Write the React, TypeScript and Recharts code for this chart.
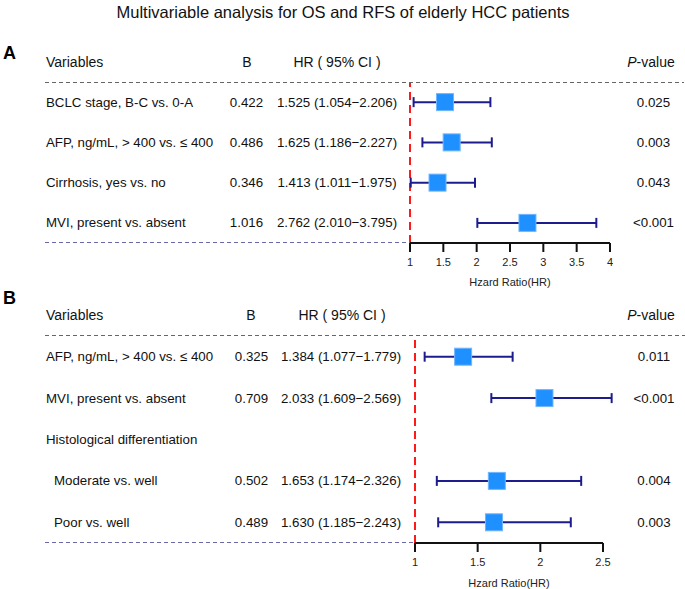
import React from 'react';
import { ScatterChart, Scatter, XAxis, YAxis, ErrorBar, ReferenceLine } from 'recharts';

const FONT = '"Liberation Sans", Arial, sans-serif';

// Panel A: OS
const osLabels = ['BCLC stage, B-C vs. 0-A', 'AFP, ng/mL, > 400 vs. \u2264 400', 'Cirrhosis, yes vs. no', 'MVI, present vs. absent'];
const osB = ['0.422', '0.486', '0.346', '1.016'];
const osHR = [1.525, 1.625, 1.413, 2.762];
const osLow = [1.054, 1.186, 1.011, 2.01];
const osHigh = [2.206, 2.227, 1.975, 3.795];
const osP = ['0.025', '0.003', '0.043', '<0.001'];
const osTicks = [1, 1.5, 2, 2.5, 3, 3.5, 4];

// Panel B: RFS (row 2 is a group header without estimate)
const rfsLabels = ['AFP, ng/mL, > 400 vs. \u2264 400', 'MVI, present vs. absent', 'Histological differentiation', 'Moderate vs. well', 'Poor vs. well'];
const rfsIndent = [false, false, false, true, true];
const rfsB = ['0.325', '0.709', '', '0.502', '0.489'];
const rfsHR: (number | null)[] = [1.384, 2.033, null, 1.653, 1.63];
const rfsLow: (number | null)[] = [1.077, 1.609, null, 1.174, 1.185];
const rfsHigh: (number | null)[] = [1.779, 2.569, null, 2.326, 2.243];
const rfsP = ['0.011', '<0.001', '', '0.004', '0.003'];
const rfsTicks = [1, 1.5, 2, 2.5];

const fmt = (v: number) => v.toFixed(3);

const buildRows = (hr: (number | null)[], lo: (number | null)[], hi: (number | null)[]) =>
  hr
    .map((h, i) => (h == null ? null : { y: i + 0.5, hr: h, err: [h - (lo[i] as number), (hi[i] as number) - h] }))
    .filter(Boolean) as { y: number; hr: number; err: number[] }[];

const Square = (props: any) => {
  const { cx, cy } = props;
  const s = 17;
  return <rect x={cx - s / 2} y={cy - s / 2} width={s} height={s} fill="#1e90ff" stroke="#6fb6ff" strokeWidth={1} />;
};

type PanelProps = {
  top: number;
  height: number;
  plotTop: number;
  plotBottom: number;
  left: number;
  right: number;
  domain: [number, number];
  ticks: number[];
  rowCount: number;
  data: { y: number; hr: number; err: number[] }[];
  labelOffset: number;
};

const ForestPlot = ({ top, height, plotTop, plotBottom, left, right, domain, ticks, rowCount, data, labelOffset }: PanelProps) => (
  <div style={{ position: 'absolute', left: 0, top }}>
    <ScatterChart
      width={685}
      height={height}
      margin={{ top: plotTop, right: 685 - right, left, bottom: 0 }}
    >
      <XAxis
        type="number"
        dataKey="hr"
        domain={domain}
        ticks={ticks}
        allowDataOverflow
        height={height - plotBottom}
        axisLine={{ stroke: '#111', strokeWidth: 2 }}
        tickLine={{ stroke: '#111', strokeWidth: 2 }}
        tickSize={9}
        tickMargin={6}
        tick={{ fontSize: 11, fill: '#222', fontFamily: FONT }}
        label={{ value: 'Hzard Ratio(HR)', position: 'insideBottom', offset: labelOffset, fontSize: 11, fill: '#222', fontFamily: FONT }}
      />
      <YAxis type="number" dataKey="y" domain={[0, rowCount]} reversed hide />
      <ReferenceLine x={1} stroke="#ff1a1a" strokeWidth={2} strokeDasharray="8 5" />
      <Scatter data={data} shape={<Square />} isAnimationActive={false}>
        <ErrorBar dataKey="err" direction="x" stroke="#1c1c8c" strokeWidth={2} width={5} />
      </Scatter>
    </ScatterChart>
  </div>
);

const textStyle = { fontFamily: FONT, fontSize: 13.3, fill: '#111' };
const headStyle = { fontFamily: FONT, fontSize: 14, fill: '#111' };

export default function App() {
  const osData = buildRows(osHR, osLow, osHigh);
  const rfsData = buildRows(rfsHR, rfsLow, rfsHigh);
  const osRowY = (i: number) => 82 + (i + 0.5) * (161 / 4);
  const rfsRowY = (i: number) => 336 + (i + 0.5) * (207 / 5);

  return (
    <div style={{ position: 'absolute', left: 0, top: 0, width: 685, height: 589, background: '#fff', overflow: 'hidden' }}>
      <ForestPlot top={0} height={300} plotTop={82} plotBottom={243} left={410} right={610} domain={[1, 4]} ticks={osTicks} rowCount={4} data={osData} labelOffset={14} />
      <ForestPlot top={290} height={299} plotTop={46} plotBottom={253} left={415} right={603} domain={[1, 2.5]} ticks={rfsTicks} rowCount={5} data={rfsData} labelOffset={2} />

      <svg width={685} height={589} style={{ position: 'absolute', left: 0, top: 0, pointerEvents: 'none' }}>
        <text x={343} y={12} textAnchor="middle" dominantBaseline="central" style={{ fontFamily: FONT, fontSize: 16.5, fill: '#111' }}>
          Multivariable analysis for OS and RFS of elderly HCC patients
        </text>

        {/* Panel A */}
        <text x={3} y={53} dominantBaseline="central" style={{ fontFamily: FONT, fontSize: 18, fontWeight: 'bold', fill: '#000' }}>A</text>
        <text x={46} y={62} dominantBaseline="central" style={headStyle}>Variables</text>
        <text x={247} y={62} textAnchor="middle" dominantBaseline="central" style={headStyle}>B</text>
        <text x={337} y={62} textAnchor="middle" dominantBaseline="central" style={headStyle}>HR ( 95% CI )</text>
        <text x={651} y={62} textAnchor="middle" dominantBaseline="central" style={headStyle}>
          <tspan fontStyle="italic">P</tspan>-value
        </text>
        <line x1={45} x2={684} y1={82.5} y2={82.5} stroke="#666" strokeDasharray="4 3" />
        <line x1={45} x2={410} y1={242.5} y2={242.5} stroke="#6a6aa8" strokeDasharray="4 3" />
        {osLabels.map((l, i) => (
          <g key={l}>
            <text x={46} y={osRowY(i)} dominantBaseline="central" style={textStyle}>{l}</text>
            <text x={246.5} y={osRowY(i)} textAnchor="middle" dominantBaseline="central" style={textStyle}>{osB[i]}</text>
            <text x={337} y={osRowY(i)} textAnchor="middle" dominantBaseline="central" style={textStyle}>
              {`${fmt(osHR[i])} (${fmt(osLow[i])}\u2212${fmt(osHigh[i])})`}
            </text>
            <text x={653.5} y={osRowY(i)} textAnchor="middle" dominantBaseline="central" style={textStyle}>{osP[i]}</text>
          </g>
        ))}

        {/* Panel B */}
        <text x={3} y={298} dominantBaseline="central" style={{ fontFamily: FONT, fontSize: 18, fontWeight: 'bold', fill: '#000' }}>B</text>
        <text x={46} y={315} dominantBaseline="central" style={headStyle}>Variables</text>
        <text x={251} y={315} textAnchor="middle" dominantBaseline="central" style={headStyle}>B</text>
        <text x={342} y={315} textAnchor="middle" dominantBaseline="central" style={headStyle}>HR ( 95% CI )</text>
        <text x={651} y={315} textAnchor="middle" dominantBaseline="central" style={headStyle}>
          <tspan fontStyle="italic">P</tspan>-value
        </text>
        <line x1={45} x2={685} y1={335.5} y2={335.5} stroke="#666" strokeDasharray="4 3" />
        <line x1={45} x2={415} y1={542.5} y2={542.5} stroke="#6a6aa8" strokeDasharray="4 3" />
        {rfsLabels.map((l, i) => {
          const hr = rfsHR[i];
          return (
            <g key={l}>
              <text x={rfsIndent[i] ? 54 : 46} y={rfsRowY(i)} dominantBaseline="central" style={textStyle}>{l}</text>
              <text x={251.5} y={rfsRowY(i)} textAnchor="middle" dominantBaseline="central" style={textStyle}>{rfsB[i]}</text>
              {hr != null && (
                <text x={341} y={rfsRowY(i)} textAnchor="middle" dominantBaseline="central" style={textStyle}>
                  {`${fmt(hr)} (${fmt(rfsLow[i] as number)}\u2212${fmt(rfsHigh[i] as number)})`}
                </text>
              )}
              <text x={654} y={rfsRowY(i)} textAnchor="middle" dominantBaseline="central" style={textStyle}>{rfsP[i]}</text>
            </g>
          );
        })}
      </svg>
    </div>
  );
}
